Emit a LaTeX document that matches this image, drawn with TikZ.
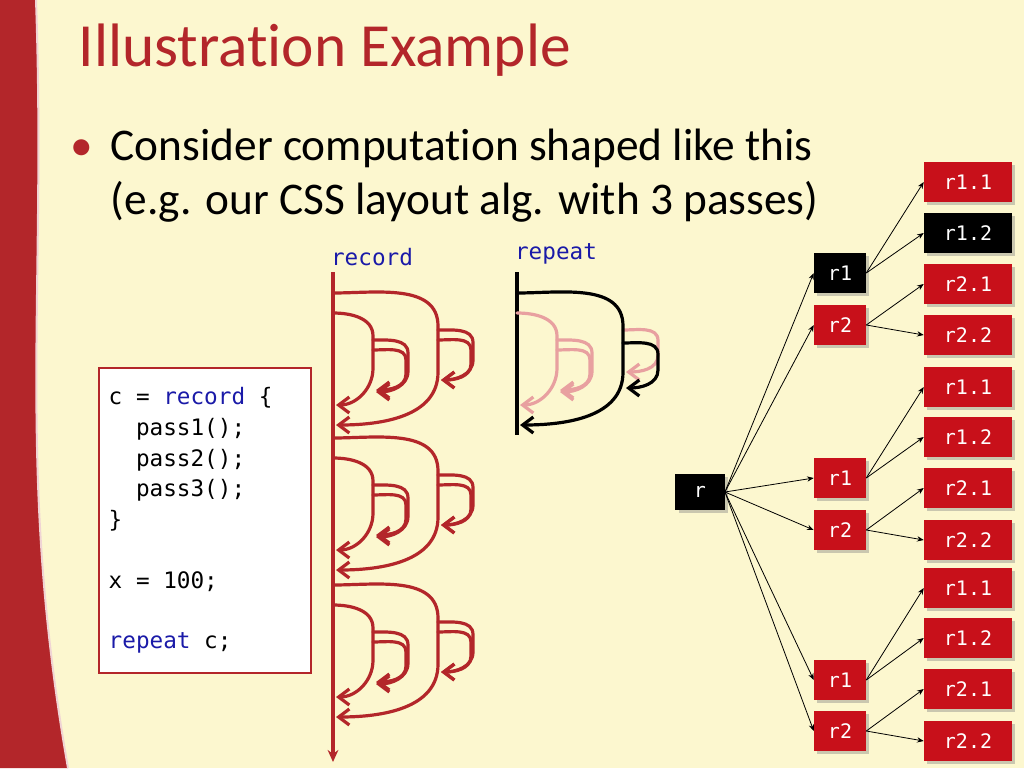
\documentclass[tikz,border=0pt]{standalone}
\usepackage{fontspec}
\setmainfont{Carlito}[Ligatures=NoCommon]
\setmonofont{DejaVu Sans Mono}
\usetikzlibrary{arrows.meta,shadows}
\definecolor{bg}{HTML}{FCF7CF}
\definecolor{dred}{HTML}{B3262A}
\definecolor{boxred}{HTML}{C8101A}
\definecolor{pinkc}{HTML}{E8A0A0}
\definecolor{kwblue}{HTML}{1A1AA8}
\tikzset{
  leaf/.style={fill=boxred,text=white,font=\ttfamily\fontsize{15}{15}\selectfont,minimum width=66pt,minimum height=30pt,drop shadow={opacity=0.4}},
  mid/.style={leaf,minimum width=39pt},
  blk/.style={fill=black},
  edge/.style={-{Stealth[length=5pt,width=4pt]},line width=0.6pt},
  arcs/.style={line width=2.4pt,line cap=round},
  tip/.style={-{Straight Barb[length=8pt,width=12pt]}},
}
\newcommand{\unitarc}[5]{% color, x,y,w,h
  \draw[arcs,tip,#1] (#2,#3) to[out=0,in=90] (#2+#4,#3+0.25*#5) -- (#2+#4,#3+0.6*#5) to[out=-90,in=0] (#2+3,#3+#5);}
\newcommand{\block}[2]{% color, yoffset
  \unitarc{#1}{333}{293+#2}{105}{132}
  \unitarc{#1}{333}{313+#2}{40}{92}
  \unitarc{#1}{373}{340+#2}{35}{52}
  \unitarc{#1}{373}{350+#2}{33}{40}
  \unitarc{#1}{438}{330+#2}{35}{50}
  \unitarc{#1}{438}{340+#2}{33}{40}
}
\begin{document}
\begin{tikzpicture}[x=0.75pt,y=-0.75pt]
\useasboundingbox (0,0) rectangle (1024,768);
\fill[bg] (0,0) rectangle (1024,768);
\fill[dred] (0,0) -- (36,0) to[out=-88,in=100] (68,768) -- (0,768) -- cycle;
\draw[white!80!dred,line width=1.5pt] (36,0) to[out=-88,in=100] (68,768);
\node[anchor=west,text=dred,font=\fontsize{46}{46}\selectfont] (title) at (74,50) {Illustration Example};
\node[anchor=west,text=dred,font=\fontsize{34}{34}\selectfont] (bul) at (66,150) {•};
\node[anchor=north west,align=left,font=\fontsize{34}{41}\selectfont] (txt) at (106,124) {Consider computation shaped like this\\(e.g. our CSS layout alg. with 3 passes)};
\node[text=kwblue,font=\ttfamily\fontsize{17}{17}\selectfont] (lrec) at (372,257) {record};
\node[text=kwblue,font=\ttfamily\fontsize{17}{17}\selectfont] (lrep) at (556,254) {repeat};
% record
\draw[dred,line width=2.4pt,-{Stealth[length=9pt,width=8pt]}] (333,272) -- (333,762);
\block{dred}{0}
\block{dred}{145}
\block{dred}{292}
% repeat
\draw[line width=3pt] (517,272) -- (517,435);
\unitarc{pinkc}{517}{313}{40}{92}
\unitarc{pinkc}{557}{340}{35}{52}
\unitarc{pinkc}{557}{350}{33}{40}
\unitarc{pinkc}{623}{330}{35}{42}
\unitarc{black}{517}{293}{106}{132}
\unitarc{black}{623}{343}{35}{45}
% code box
\node[draw=dred,line width=1.5pt,fill=white,minimum width=159pt,minimum height=229pt,anchor=north west] (code) at (98,367) {};
\begin{scope}[font=\ttfamily\fontsize{17}{17}\selectfont]
\node[anchor=west] (c1) at (104,398) {c = \textcolor{kwblue}{record} \{};
\node[anchor=west] (c2) at (104,429) {\ \ pass1();};
\node[anchor=west] (c3) at (104,460) {\ \ pass2();};
\node[anchor=west] (c4) at (104,490) {\ \ pass3();};
\node[anchor=west] (c5) at (104,521) {\}};
\node[anchor=west] (c6) at (104,582) {x = 100;};
\node[anchor=west] (c7) at (104,643) {\textcolor{kwblue}{repeat} c;};
\end{scope}
% tree
\node[mid,blk,minimum width=37pt,minimum height=27pt] (r) at (700,492) {r};
\foreach \i/\y/\b in {1/273/1,2/325/0,3/478/0,4/530/0,5/680/0,6/731/0}{
  \pgfmathtruncatemacro{\lab}{mod(\i-1,2)+1}
  \ifnum\b=1 \node[mid,blk] (m\i) at (840,\y) {r\lab};
  \else \node[mid] (m\i) at (840,\y) {r\lab}; \fi
  \draw[edge] (r.east) -- (m\i.west);
}
\foreach \j/\y/\t/\p/\b in {1/182/r1.1/1/0,2/233/r1.2/1/1,3/284/r2.1/2/0,4/335/r2.2/2/0,
  5/387/r1.1/3/0,6/437/r1.2/3/0,7/488/r2.1/4/0,8/540/r2.2/4/0,
  9/588/r1.1/5/0,10/638/r1.2/5/0,11/689/r2.1/6/0,12/741/r2.2/6/0}{
  \ifnum\b=1 \node[leaf,blk] (l\j) at (968,\y) {\t};
  \else \node[leaf] (l\j) at (968,\y) {\t}; \fi
  \draw[edge] (m\p.east) -- (l\j.west);
}
\end{tikzpicture}
\end{document}
